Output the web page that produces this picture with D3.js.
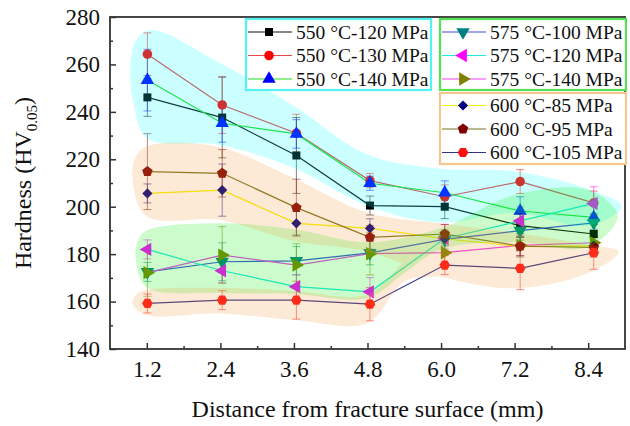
<!DOCTYPE html>
<html>
<head>
<meta charset="utf-8">
<script src="https://cdn.jsdelivr.net/npm/d3@7"></script>
<style>
    body { margin: 0; background: #fff; }
    svg { display: block; font-family: "Liberation Serif", "Times New Roman", serif; }
</style>
</head>
<body>
<div id="chart"></div>
<script>
// tick labels and measuring positions (mm)
const tickValues = [1.2, 2.4, 3.6, 4.8, 6.0, 7.2, 8.4];
const minorTicks = [1.8, 3.0, 4.2, 5.4, 6.6, 7.8];
const distance = [1.21, 2.43, 3.64, 4.84, 6.06, 7.29, 8.49];
const yTicks = [140, 160, 180, 200, 220, 240, 260, 280];
const yMinor = [150, 170, 190, 210, 230, 250, 270];

// hardness HV0.05, mean and error
const hv550_120 = [246.1, 237.6, 221.6, 200.5, 200.0, 192.0, 188.5];
const hv550_130 = [264.3, 242.9, 231.0, 211.0, 204.2, 210.6, 201.6];
const hv550_140 = [253.4, 235.2, 230.7, 209.9, 205.9, 198.2, 195.5];
const hv575_100 = [172.5, 176.8, 177.2, 180.5, 186.2, 189.9, 193.2];
const hv575_120 = [182.0, 173.0, 166.3, 164.1, 186.6, 194.0, 201.4];
const hv575_140 = [172.2, 179.6, 175.4, 180.2, 180.6, 183.7, 184.8];
const hv600_85 = [205.6, 207.0, 193.0, 190.9, 186.5, 183.2, 183.5];
const hv600_95 = [214.8, 214.1, 199.6, 187.1, 188.5, 183.4, 182.8];
const hv600_105 = [159.2, 160.6, 160.6, 158.9, 175.4, 174.0, 180.6];

const err550_120 = [8, 17, 16, 4, 5, 5, 4];
const err550_130 = [9, 12, 8, 3, 5, 5, 5];
const err550_140 = [13, 8, 6, 3, 5, 6, 5];
const err575_100 = [4, 8, 6, 5, 4, 4, 4];
const err575_120 = [4, 5, 5, 6, 6, 6, 7];
const err575_140 = [10, 12, 9, 9, 5, 5, 5];
const err600_85 = [4, 11, 5, 4, 3, 4, 4];
const err600_95 = [16, 10, 12, 5, 4, 4, 4];
const err600_105 = [4, 4, 8, 7, 4, 9, 7];

// shaded groups, outline in [mm, HV]
const cyanBlob = [[0.93, 257], [0.98, 244], [1.2, 229], [2.4, 226], [3.6, 216.3], [4.8, 200.3], [6.0, 193.3],
    [7.2, 197.5], [8.4, 192], [8.95, 200], [8.4, 207.5], [7.2, 215], [6.0, 216], [4.8, 222], [3.6, 242.5],
    [2.4, 260.5], [1.27, 274.5], [1.02, 270]];
const greenBlob = [[1.02, 178], [1.2, 166], [2.4, 163.6], [3.6, 163.2], [4.8, 161.5], [5.4, 172], [6.0, 182],
    [7.2, 185], [8.4, 183], [8.88, 196], [8.4, 207], [7.2, 205], [6.0, 191], [4.8, 185], [3.6, 190.5],
    [2.4, 193], [1.2, 190], [1.06, 186]];
const orangeBlobUpper = [[0.97, 211], [1.2, 196], [2.4, 194.4], [3.6, 185.5], [4.8, 181], [6.0, 170.5],
    [7.2, 165.6], [8.4, 172], [8.9, 181], [8.4, 184], [7.2, 189], [6.0, 193], [4.8, 197.5], [3.6, 212],
    [2.4, 225], [1.3, 226.2], [1.04, 222]];
const orangeBlobLower = [[0.97, 159], [1.2, 154.3], [2.4, 155], [3.6, 152.2], [4.8, 151], [5.4, 168.5],
    [6.0, 171.5], [5.6, 180], [4.8, 163], [3.6, 164.5], [2.4, 165.8], [1.2, 165], [1.05, 163.5]];

const pentagon = {
    draw(context, size) {
        const r = Math.sqrt(size / 2.3776);
        for (let i = 0; i < 5; i++) {
            const a = -Math.PI / 2 + i * 2 * Math.PI / 5;
            i ? context.lineTo(r * Math.cos(a), r * Math.sin(a)) : context.moveTo(r * Math.cos(a), r * Math.sin(a));
        }
        context.closePath();
    }
};
const hexagon = {
    draw(context, size) {
        const r = Math.sqrt(size / 2.598);
        for (let i = 0; i < 6; i++) {
            const a = i * Math.PI / 3;
            i ? context.lineTo(r * Math.cos(a), r * Math.sin(a)) : context.moveTo(r * Math.cos(a), r * Math.sin(a));
        }
        context.closePath();
    }
};

const series = [
    {name: "550 °C-120 MPa", values: hv550_120, errors: err550_120, line: "#111", fill: "#000", symbol: d3.symbolSquare, size: 64, rotate: 0},
    {name: "550 °C-130 MPa", values: hv550_130, errors: err550_130, line: "#e84848", fill: "#ff0000", symbol: d3.symbolCircle, size: 72, rotate: 0},
    {name: "550 °C-140 MPa", values: hv550_140, errors: err550_140, line: "#22e022", fill: "#0000ff", symbol: d3.symbolTriangle, size: 78, rotate: 0},
    {name: "575 °C-100 MPa", values: hv575_100, errors: err575_100, line: "#3c4ce0", fill: "#008080", symbol: d3.symbolTriangle, size: 78, rotate: 180},
    {name: "575 °C-120 MPa", values: hv575_120, errors: err575_120, line: "#20e8e0", fill: "#ff00ff", symbol: d3.symbolTriangle, size: 78, rotate: -90},
    {name: "575 °C-140 MPa", values: hv575_140, errors: err575_140, line: "#ee40ee", fill: "#808000", symbol: d3.symbolTriangle, size: 78, rotate: 90},
    {name: "600 °C-85 MPa", values: hv600_85, errors: err600_85, line: "#f4f000", fill: "#000080", symbol: d3.symbolSquare, size: 52, rotate: 45},
    {name: "600 °C-95 MPa", values: hv600_95, errors: err600_95, line: "#7c7020", fill: "#800000", symbol: pentagon, size: 72, rotate: 0},
    {name: "600 °C-105 MPa", values: hv600_105, errors: err600_105, line: "#34348a", fill: "#ff1010", symbol: hexagon, size: 74, rotate: 0}
];

const width = 630, height = 426;
const svg = d3.select("#chart").append("svg")
    .attr("width", width)
    .attr("height", height);

const x = d3.scaleLinear().domain([0.6, 9.0]).range([110, 625]);
const y = d3.scaleLinear().domain([140, 280]).range([349, 17]);

const line = d3.line()
    .x((d, i) => x(distance[i]))
    .y(d => y(d));

const dataLayer = svg.append("g");

series.forEach(s => {
    dataLayer.append("path")
        .datum(s.values)
        .attr("fill", "none")
        .attr("stroke", s.line)
        .attr("stroke-width", 1.2)
        .attr("d", line);
});

series.forEach(s => {
    const g = dataLayer.append("g")
        .attr("stroke", s.fill)
        .attr("stroke-opacity", 0.5)
        .attr("stroke-width", 1);
    s.values.forEach((v, i) => {
        const cx = x(distance[i]);
        const y1 = y(v - s.errors[i]), y2 = y(v + s.errors[i]);
        g.append("line").attr("x1", cx).attr("x2", cx).attr("y1", y1).attr("y2", y2);
        g.append("line").attr("x1", cx - 4).attr("x2", cx + 4).attr("y1", y1).attr("y2", y1);
        g.append("line").attr("x1", cx - 4).attr("x2", cx + 4).attr("y1", y2).attr("y2", y2);
    });
});

series.forEach(s => {
    const sym = d3.symbol(s.symbol, s.size);
    dataLayer.append("g").selectAll("path")
        .data(s.values)
        .join("path")
        .attr("d", sym)
        .attr("fill", s.fill)
        .attr("transform", (d, i) => `translate(${x(distance[i])},${y(d)}) rotate(${s.rotate})`);
});

// translucent group shading over the points
const blobLine = d3.line()
    .x(d => x(d[0]))
    .y(d => y(d[1]))
    .curve(d3.curveCatmullRomClosed.alpha(0.5));

svg.append("path").attr("d", blobLine(cyanBlob)).attr("fill", "#00ffff").attr("opacity", 0.2);
svg.append("path").attr("d", blobLine(greenBlob)).attr("fill", "#00ee00").attr("opacity", 0.2);
const orangeGroup = svg.append("g").attr("opacity", 0.2);
orangeGroup.append("path").attr("d", blobLine(orangeBlobUpper)).attr("fill", "#f59a38");
orangeGroup.append("path").attr("d", blobLine(orangeBlobLower)).attr("fill", "#f59a38");

// axes
const axisColor = "#333";
const xAxis = d3.axisBottom(x).tickValues(tickValues).tickFormat(d3.format(".1f"))
    .tickSizeInner(-6).tickSizeOuter(0).tickPadding(12);
const xMinorAxis = d3.axisBottom(x).tickValues(minorTicks).tickFormat("")
    .tickSizeInner(-3).tickSizeOuter(0);
const yAxis = d3.axisLeft(y).tickValues(yTicks)
    .tickSizeInner(-6).tickSizeOuter(0).tickPadding(10);
const yMinorAxis = d3.axisLeft(y).tickValues(yMinor).tickFormat("")
    .tickSizeInner(-3).tickSizeOuter(0);

[[xMinorAxis, "x"], [xAxis, "x"], [yMinorAxis, "y"], [yAxis, "y"]].forEach(([ax, dir]) => {
    const g = svg.append("g")
        .attr("transform", dir === "x" ? `translate(0,${y(140)})` : `translate(${x(0.6)},0)`)
        .call(ax);
    g.select(".domain").remove();
    g.selectAll(".tick line").attr("stroke", axisColor).attr("stroke-width", 1.5);
    g.selectAll(".tick text")
        .attr("fill", "#111")
        .style("font-family", "'Liberation Serif', 'Times New Roman', serif")
        .style("font-size", "23px");
});

svg.append("rect")
    .attr("x", x(0.6)).attr("y", y(280))
    .attr("width", x(9.0) - x(0.6)).attr("height", y(140) - y(280))
    .attr("fill", "none")
    .attr("stroke", axisColor)
    .attr("stroke-width", 1.8);

svg.append("text")
    .attr("x", (x(0.6) + x(9.0)) / 2)
    .attr("y", 417)
    .attr("text-anchor", "middle")
    .attr("font-size", 24)
    .attr("fill", "#111")
    .text("Distance from fracture surface (mm)");

const yTitle = svg.append("text")
    .attr("transform", `translate(31,${(y(140) + y(280)) / 2}) rotate(-90)`)
    .attr("text-anchor", "middle")
    .attr("font-size", 24)
    .attr("fill", "#111");
yTitle.append("tspan").text("Hardness (HV");
yTitle.append("tspan").attr("dy", 6).attr("font-size", 15).text("0.05");
yTitle.append("tspan").attr("dy", -6).text(")");

// legends
const legendBoxes = [
    {x: 246, y: 19, w: 185, h: 71, stroke: "#55f2f2", items: series.slice(0, 3), rows: [32, 55.5, 79]},
    {x: 440, y: 19, w: 186, h: 71, stroke: "#55e055", items: series.slice(3, 6), rows: [32, 55.5, 79]},
    {x: 440, y: 93, w: 186, h: 71, stroke: "#f8c690", items: series.slice(6, 9), rows: [105.5, 129, 152.5]}
];

legendBoxes.forEach(box => {
    const g = svg.append("g");
    g.append("rect")
        .attr("x", box.x).attr("y", box.y)
        .attr("width", box.w).attr("height", box.h)
        .attr("fill", "#fff")
        .attr("stroke", box.stroke)
        .attr("stroke-width", 2.2);
    box.items.forEach((s, i) => {
        const cy = box.rows[i];
        g.append("line")
            .attr("x1", box.x + 2).attr("x2", box.x + 46)
            .attr("y1", cy).attr("y2", cy)
            .attr("stroke", s.line).attr("stroke-width", 1.2);
        g.append("path")
            .attr("d", d3.symbol(s.symbol, s.size)())
            .attr("fill", s.fill)
            .attr("transform", `translate(${box.x + 23},${cy}) rotate(${s.rotate})`);
        g.append("text")
            .attr("x", box.x + 50)
            .attr("y", cy)
            .attr("dy", "0.35em")
            .attr("font-size", 19.5)
            .attr("fill", "#111")
            .text(s.name);
    });
});
</script>
</body>
</html>
